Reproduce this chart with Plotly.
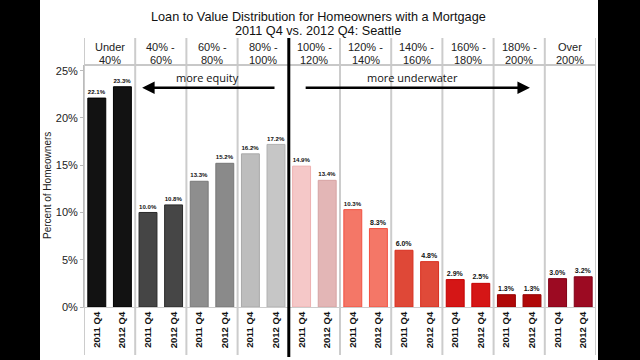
import plotly.graph_objects as go

groups = ["Under<br>40%", "40% -<br>60%", "60% -<br>80%", "80% -<br>100%", "100% -<br>120%",
          "120% -<br>140%", "140% -<br>160%", "160% -<br>180%", "180% -<br>200%", "Over<br>200%"]
periods = ["2011 Q4", "2012 Q4"]
values = [22.1, 23.3, 10.0, 10.8, 13.3, 15.2, 16.2, 17.2, 14.9, 13.4,
          10.3, 8.3, 6.0, 4.8, 2.9, 2.5, 1.3, 1.3, 3.0, 3.2]
y_ticks = [0, 5, 10, 15, 20, 25]
fills = ["#121212", "#121212", "#454545", "#464646", "#8e8e8e", "#8a8a8a", "#bdbdbd", "#c6c6c6",
         "#f5c8c8", "#e3b6b6", "#f47767", "#f47767", "#df4837", "#e04a39", "#d51616", "#d51616",
         "#b00808", "#b00808", "#9c0a22", "#9c0a22"]
outlines = ["#000000", "#000000", "#2a2a2a", "#2a2a2a", "#7a7a7a", "#777777", "#a8a8a8", "#b0b0b0",
            "#eeb0b0", "#d6a3a3", "#f25040", "#f25040", "#d83020", "#d83020", "#c40000", "#c40000",
            "#960000", "#960000", "#800016", "#800016"]

xs = list(range(len(values)))
ticktext = [periods[i % 2] for i in xs]
labels = [f"{v:.1f}%" for v in values]

fig = go.Figure()
fig.add_trace(go.Bar(
    x=xs, y=values, width=0.7,
    marker=dict(color=fills, line=dict(color=outlines, width=1)),
    text=labels, textposition="outside",
    textfont=dict(size=7, color="#111111", family="Liberation Sans", weight="bold"),
    cliponaxis=False, hoverinfo="skip",
))

L, R, T, B = 84, 44, 65, 53
PW, PH = 640 - L - R, 360 - T - B

def px_x(p):
    return (p - L) / PW

def px_y(p):
    return (360 - B - p) / PH

shapes = []
for k in range(len(groups) + 1):
    xv = -0.5 + 2 * k
    if k == 4:
        continue
    shapes.append(dict(type="line", xref="x", yref="paper", x0=xv, x1=xv,
                       y0=px_y(355), y1=px_y(38), line=dict(color="#cccccc", width=2), layer="below"))
shapes.append(dict(type="line", xref="paper", yref="paper", x0=0, x1=1, y0=1, y1=1,
                   line=dict(color="#c8c8c8", width=2)))
shapes.append(dict(type="line", xref="x", yref="paper", x0=7.5, x1=7.5,
                   y0=px_y(357), y1=px_y(38), line=dict(color="#000000", width=3)))
shapes.append(dict(type="rect", xref="paper", yref="paper", x0=px_x(-5), x1=px_x(40),
                   y0=px_y(365), y1=px_y(-5), fillcolor="#000000", line=dict(width=0)))
shapes.append(dict(type="rect", xref="paper", yref="paper", x0=px_x(598), x1=px_x(645),
                   y0=px_y(365), y1=px_y(-5), fillcolor="#000000", line=dict(width=0)))

annotations = []
for k, g in enumerate(groups):
    top, bottom = g.split("<br>")
    for txt, ypx in ((top, 47), (bottom, 60)):
        annotations.append(dict(x=2 * k + 0.5, y=px_y(ypx), xref="x", yref="paper", text=txt,
                                showarrow=False, font=dict(size=11, color="#222222", family="Liberation Sans"),
                                xanchor="center", yanchor="middle"))
annotations.append(dict(x=px_x(318), y=px_y(17), xref="paper", yref="paper",
                        text="Loan to Value Distribution for Homeowners with a Mortgage",
                        showarrow=False, font=dict(size=12.7, color="#111111", family="Liberation Sans"),
                        xanchor="center", yanchor="middle"))
annotations.append(dict(x=px_x(318), y=px_y(31), xref="paper", yref="paper",
                        text="2011 Q4 vs. 2012 Q4: Seattle",
                        showarrow=False, font=dict(size=12.7, color="#111111", family="Liberation Sans"),
                        xanchor="center", yanchor="middle"))
annotations.append(dict(x=px_x(47), y=px_y(186), xref="paper", yref="paper",
                        text="Percent of Homeowners", textangle=-90, xanchor="center", yanchor="middle",
                        showarrow=False, font=dict(size=10, color="#222222", family="Liberation Sans")))
annotations.append(dict(x=1.77, y=23.2, ax=7.0, ay=23.2, xref="x", yref="y", axref="x", ayref="y",
                        text="", showarrow=True, arrowhead=2, arrowsize=1, arrowwidth=2.5, arrowcolor="#000000"))
annotations.append(dict(x=16.92, y=23.2, ax=8.1, ay=23.2, xref="x", yref="y", axref="x", ayref="y",
                        text="", showarrow=True, arrowhead=2, arrowsize=1, arrowwidth=2.5, arrowcolor="#000000"))
annotations.append(dict(x=4.34, y=24.3, xref="x", yref="y", text="more equity", showarrow=False,
                        font=dict(size=11, color="#111111", family="Open Sans")))
annotations.append(dict(x=12.35, y=24.3, xref="x", yref="y", text="more underwater", showarrow=False,
                        font=dict(size=11, color="#111111", family="Open Sans")))

fig.update_layout(
    width=640, height=360,
    margin=dict(l=L, r=R, t=T, b=B),
    paper_bgcolor="#ffffff", plot_bgcolor="#ffffff",
    showlegend=False,
    shapes=shapes, annotations=annotations,
    font=dict(family="Liberation Sans", color="#222222"),
)
fig.update_xaxes(range=[-0.5, 19.5], tickmode="array", tickvals=xs, ticktext=ticktext,
                 tickangle=-90, tickfont=dict(size=9.5, color="#111111", weight="bold"), showgrid=False,
                 showline=True, linecolor="#cccccc", linewidth=1, ticks="", zeroline=False,
                 automargin=False)
fig.update_yaxes(range=[0, 25.6], tickmode="array", tickvals=y_ticks,
                 ticktext=[f"{t}%" for t in y_ticks], tickfont=dict(size=11, color="#222222"),
                 showgrid=False, showline=True, linecolor="#bbbbbb", linewidth=1, ticks="outside",
                 ticklen=3, tickcolor="#bbbbbb", zeroline=False, automargin=False)

fig.write_html("out.html", post_script="document.body.style.margin='0';",
               config={"displayModeBar": False})
